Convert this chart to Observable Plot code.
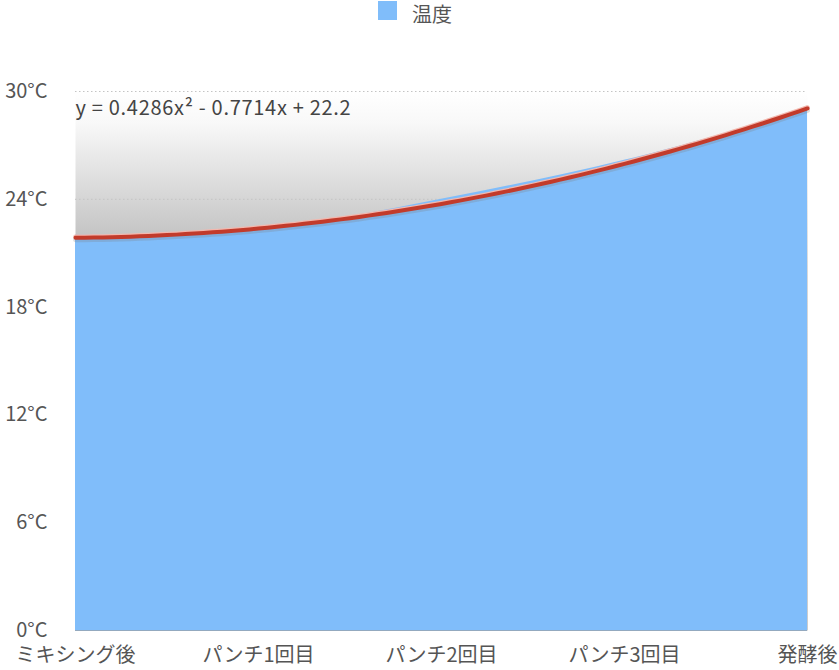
<!DOCTYPE html>
<html>
<head>
<meta charset="utf-8">
<script src="https://cdn.jsdelivr.net/npm/d3@7"></script>
<script src="https://cdn.jsdelivr.net/npm/@observablehq/plot@0.6"></script>
<style>
  html, body { margin: 0; padding: 0; background: #fff; }
  body { width: 839px; height: 670px; overflow: hidden; font-family: "Noto Sans CJK JP", "Noto Sans", sans-serif; }
  #legend { height: 30px; position: relative; }
  #legend .sw { position: absolute; left: 378px; top: 1px; width: 19px; height: 19px; background: #80bdfa; }
  #legend .lb { position: absolute; left: 412px; top: 4px; font-size: 20px; line-height: 20px; color: #555; }
  #chart svg { display: block; }
</style>
</head>
<body>
<div id="legend"><div class="sw"></div><div class="lb">温度</div></div>
<div id="chart"></div>
<script>
const categories = ["ミキシング後", "パンチ1回目", "パンチ2回目", "パンチ3回目", "発酵後"];
const temperature = [22, 22, 24, 26, 29];
const yTicks = [0, 6, 12, 18, 24, 30];
const seriesName = "温度";
const equationLabel = "y = 0.4286x² - 0.7714x + 22.2";

const data = categories.map((c, i) => ({i, category: c, value: temperature[i]}));

// quadratic least-squares trend computed from the data (x = 1..n)
function polyfit2(xs, ys) {
  const S = k => d3.sum(xs, x => x ** k);
  const T = k => d3.sum(xs, (x, j) => (x ** k) * ys[j]);
  const A = [[S(4), S(3), S(2)], [S(3), S(2), S(1)], [S(2), S(1), S(0)]];
  const b = [T(2), T(1), T(0)];
  for (let r = 0; r < 3; r++) {
    for (let k = r + 1; k < 3; k++) {
      const f = A[k][r] / A[r][r];
      for (let c = r; c < 3; c++) A[k][c] -= f * A[r][c];
      b[k] -= f * b[r];
    }
  }
  const s = [0, 0, 0];
  for (let r = 2; r >= 0; r--) {
    let v = b[r];
    for (let c = r + 1; c < 3; c++) v -= A[r][c] * s[c];
    s[r] = v / A[r][r];
  }
  return s;
}
const coef = polyfit2(data.map(d => d.i + 1), temperature);
const trend = d3.range(0, categories.length - 1 + 1e-9, 0.05).map(t => {
  const x = t + 1;
  return {i: t, value: coef[0] * x * x + coef[1] * x + coef[2]};
});

const bgDefs = () => {
  const defs = d3.create("svg:defs");
  const g = defs.append("linearGradient").attr("id", "bggrad")
    .attr("x1", 0).attr("x2", 0).attr("y1", 0).attr("y2", 1);
  g.append("stop").attr("offset", 0).attr("stop-color", "#ffffff");
  g.append("stop").attr("offset", 0.06).attr("stop-color", "#f8f8f8");
  g.append("stop").attr("offset", 0.34).attr("stop-color", "#b2b2b2");
  g.append("stop").attr("offset", 1).attr("stop-color", "#999999");
  return defs.node();
};

const chart = Plot.plot({
  width: 839,
  height: 640,
  marginTop: 61,
  marginBottom: 40,
  marginLeft: 75,
  marginRight: 32,
  style: {fontFamily: '"Noto Sans CJK JP", "Noto Sans", sans-serif', fontSize: "20px", color: "#555", background: "#fff"},
  x: {domain: [0, categories.length - 1], ticks: data.map(d => d.i), tickFormat: i => categories[i], tickSize: 0, tickPadding: 17, label: null},
  y: {domain: [0, 30], ticks: yTicks, tickFormat: d => d + "°C", tickSize: 0, tickPadding: 28, label: null},
  marks: [
    bgDefs,
    Plot.frame({fill: "url(#bggrad)", stroke: null}),
    Plot.ruleY(yTicks, {stroke: "#c4c4c4", strokeDasharray: "1.5,2.5", strokeWidth: 1}),
    Plot.areaY(data, {x: "i", y: "value", fill: "#80bdfa", curve: "basis"}),
    Plot.ruleY([0], {stroke: "#93a9bf", strokeWidth: 1}),
    Plot.line(trend, {x: "i", y: "value", stroke: "#7a7a7a", strokeOpacity: 0.25, strokeWidth: 5, dy: 2, curve: "linear"}),
    Plot.line(trend, {x: "i", y: "value", stroke: "#f3b7ad", strokeWidth: 4.5, dy: -1, curve: "linear"}),
    Plot.line(trend, {x: "i", y: "value", stroke: "#c23b2b", strokeWidth: 4, curve: "linear"}),
    Plot.text([equationLabel], {x: () => 0, y: () => 30, text: d => d, textAnchor: "start", dy: 17, fill: "#444", fontSize: 20})
  ]
});
chart.querySelectorAll('[aria-label="y-axis tick label"] text, [aria-label="x-axis tick label"] text').forEach(t => t.setAttribute("fill", "#555"));
chart.querySelectorAll('[aria-label="text"] text').forEach(t => t.style.letterSpacing = "0.7px");
document.getElementById("chart").appendChild(chart);
</script>
</body>
</html>
